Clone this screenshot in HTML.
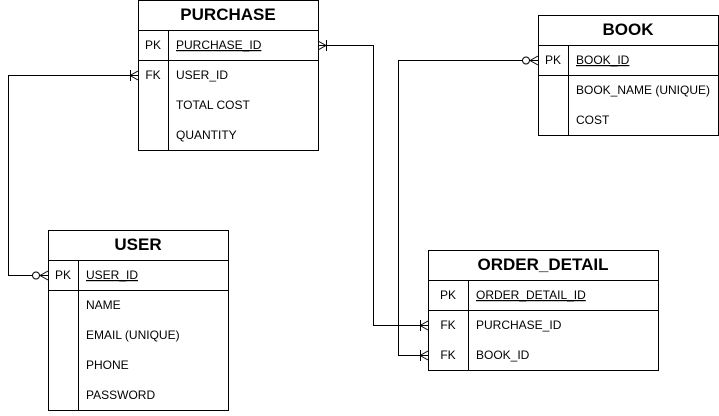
<!DOCTYPE html>
<html><head><meta charset="utf-8"><style>
html,body{margin:0;padding:0;background:#fff;}
svg text{font-family:"Liberation Sans",Arial,sans-serif;fill:#000;}
.h{font-size:17px;font-weight:bold;}
.t{font-size:12px;}
.k{font-size:12px;}
</style></head><body>
<svg width="719" height="411" viewBox="0 0 719 411" xmlns="http://www.w3.org/2000/svg">
<g fill="none" stroke="#000" stroke-width="1">
<rect x="138.5" y="0.5" width="180" height="150" fill="#fff"/>
<line x1="138" y1="30.5" x2="318" y2="30.5"/>
<line x1="138" y1="60.5" x2="318" y2="60.5"/>
<line x1="168.5" y1="30" x2="168.5" y2="150"/>
<rect x="538.5" y="15.5" width="180" height="120" fill="#fff"/>
<line x1="538" y1="45.5" x2="718" y2="45.5"/>
<line x1="538" y1="75.5" x2="718" y2="75.5"/>
<line x1="568.5" y1="45" x2="568.5" y2="135"/>
<rect x="48.5" y="230.5" width="180" height="180" fill="#fff"/>
<line x1="48" y1="260.5" x2="228" y2="260.5"/>
<line x1="48" y1="290.5" x2="228" y2="290.5"/>
<line x1="78.5" y1="260" x2="78.5" y2="410"/>
<rect x="428.5" y="250.5" width="230" height="120" fill="#fff"/>
<line x1="428" y1="280.5" x2="658" y2="280.5"/>
<line x1="428" y1="310.5" x2="658" y2="310.5"/>
<line x1="468.5" y1="280" x2="468.5" y2="370"/>

<polyline points="32,275.5 8.5,275.5 8.5,75.5 138,75.5"/>
<circle cx="36" cy="275.5" r="3.5" fill="#fff"/>
<line x1="40" y1="275.5" x2="48" y2="275.5"/>
<line x1="40" y1="275.5" x2="48" y2="271"/><line x1="40" y1="275.5" x2="48" y2="280"/>
<line x1="130.5" y1="70" x2="130.5" y2="81"/>
<line x1="130" y1="75.5" x2="138" y2="71"/><line x1="130" y1="75.5" x2="138" y2="80"/>

<polyline points="318,45.5 373.5,45.5 373.5,325.5 428,325.5"/>
<line x1="326.5" y1="40" x2="326.5" y2="51"/>
<line x1="318" y1="41" x2="326" y2="45.5"/><line x1="318" y1="50" x2="326" y2="45.5"/>
<line x1="420.5" y1="320" x2="420.5" y2="331"/>
<line x1="420" y1="325.5" x2="428" y2="321"/><line x1="420" y1="325.5" x2="428" y2="330"/>

<polyline points="522,60.5 398.5,60.5 398.5,355.5 428,355.5"/>
<circle cx="526" cy="60.5" r="3.5" fill="#fff"/>
<line x1="530" y1="60.5" x2="538" y2="60.5"/>
<line x1="530" y1="60.5" x2="538" y2="56"/><line x1="530" y1="60.5" x2="538" y2="65"/>
<line x1="420.5" y1="350" x2="420.5" y2="361"/>
<line x1="420" y1="355.5" x2="428" y2="351"/><line x1="420" y1="355.5" x2="428" y2="360"/>
</g>

<text class="h" x="228" y="20" text-anchor="middle">PURCHASE</text>
<text class="k" x="153" y="49" text-anchor="middle">PK</text>
<text class="t" x="176" y="49" text-decoration="underline">PURCHASE_ID</text>
<text class="k" x="153" y="79" text-anchor="middle">FK</text>
<text class="t" x="176" y="79">USER_ID</text>
<text class="t" x="176" y="109">TOTAL COST</text>
<text class="t" x="176" y="139">QUANTITY</text>

<text class="h" x="628" y="35" text-anchor="middle">BOOK</text>
<text class="k" x="553" y="64" text-anchor="middle">PK</text>
<text class="t" x="576" y="64" text-decoration="underline">BOOK_ID</text>
<text class="t" x="576" y="94">BOOK_NAME (UNIQUE)</text>
<text class="t" x="576" y="124">COST</text>

<text class="h" x="138" y="250" text-anchor="middle">USER</text>
<text class="k" x="63" y="279" text-anchor="middle">PK</text>
<text class="t" x="86" y="279" text-decoration="underline">USER_ID</text>
<text class="t" x="86" y="309">NAME</text>
<text class="t" x="86" y="339">EMAIL (UNIQUE)</text>
<text class="t" x="86" y="369">PHONE</text>
<text class="t" x="86" y="399">PASSWORD</text>

<text class="h" x="543" y="270" text-anchor="middle">ORDER_DETAIL</text>
<text class="k" x="448" y="299" text-anchor="middle">PK</text>
<text class="t" x="476" y="299" text-decoration="underline">ORDER_DETAIL_ID</text>
<text class="k" x="448" y="329" text-anchor="middle">FK</text>
<text class="t" x="476" y="329">PURCHASE_ID</text>
<text class="k" x="448" y="359" text-anchor="middle">FK</text>
<text class="t" x="476" y="359">BOOK_ID</text>
</svg>
</body></html>
